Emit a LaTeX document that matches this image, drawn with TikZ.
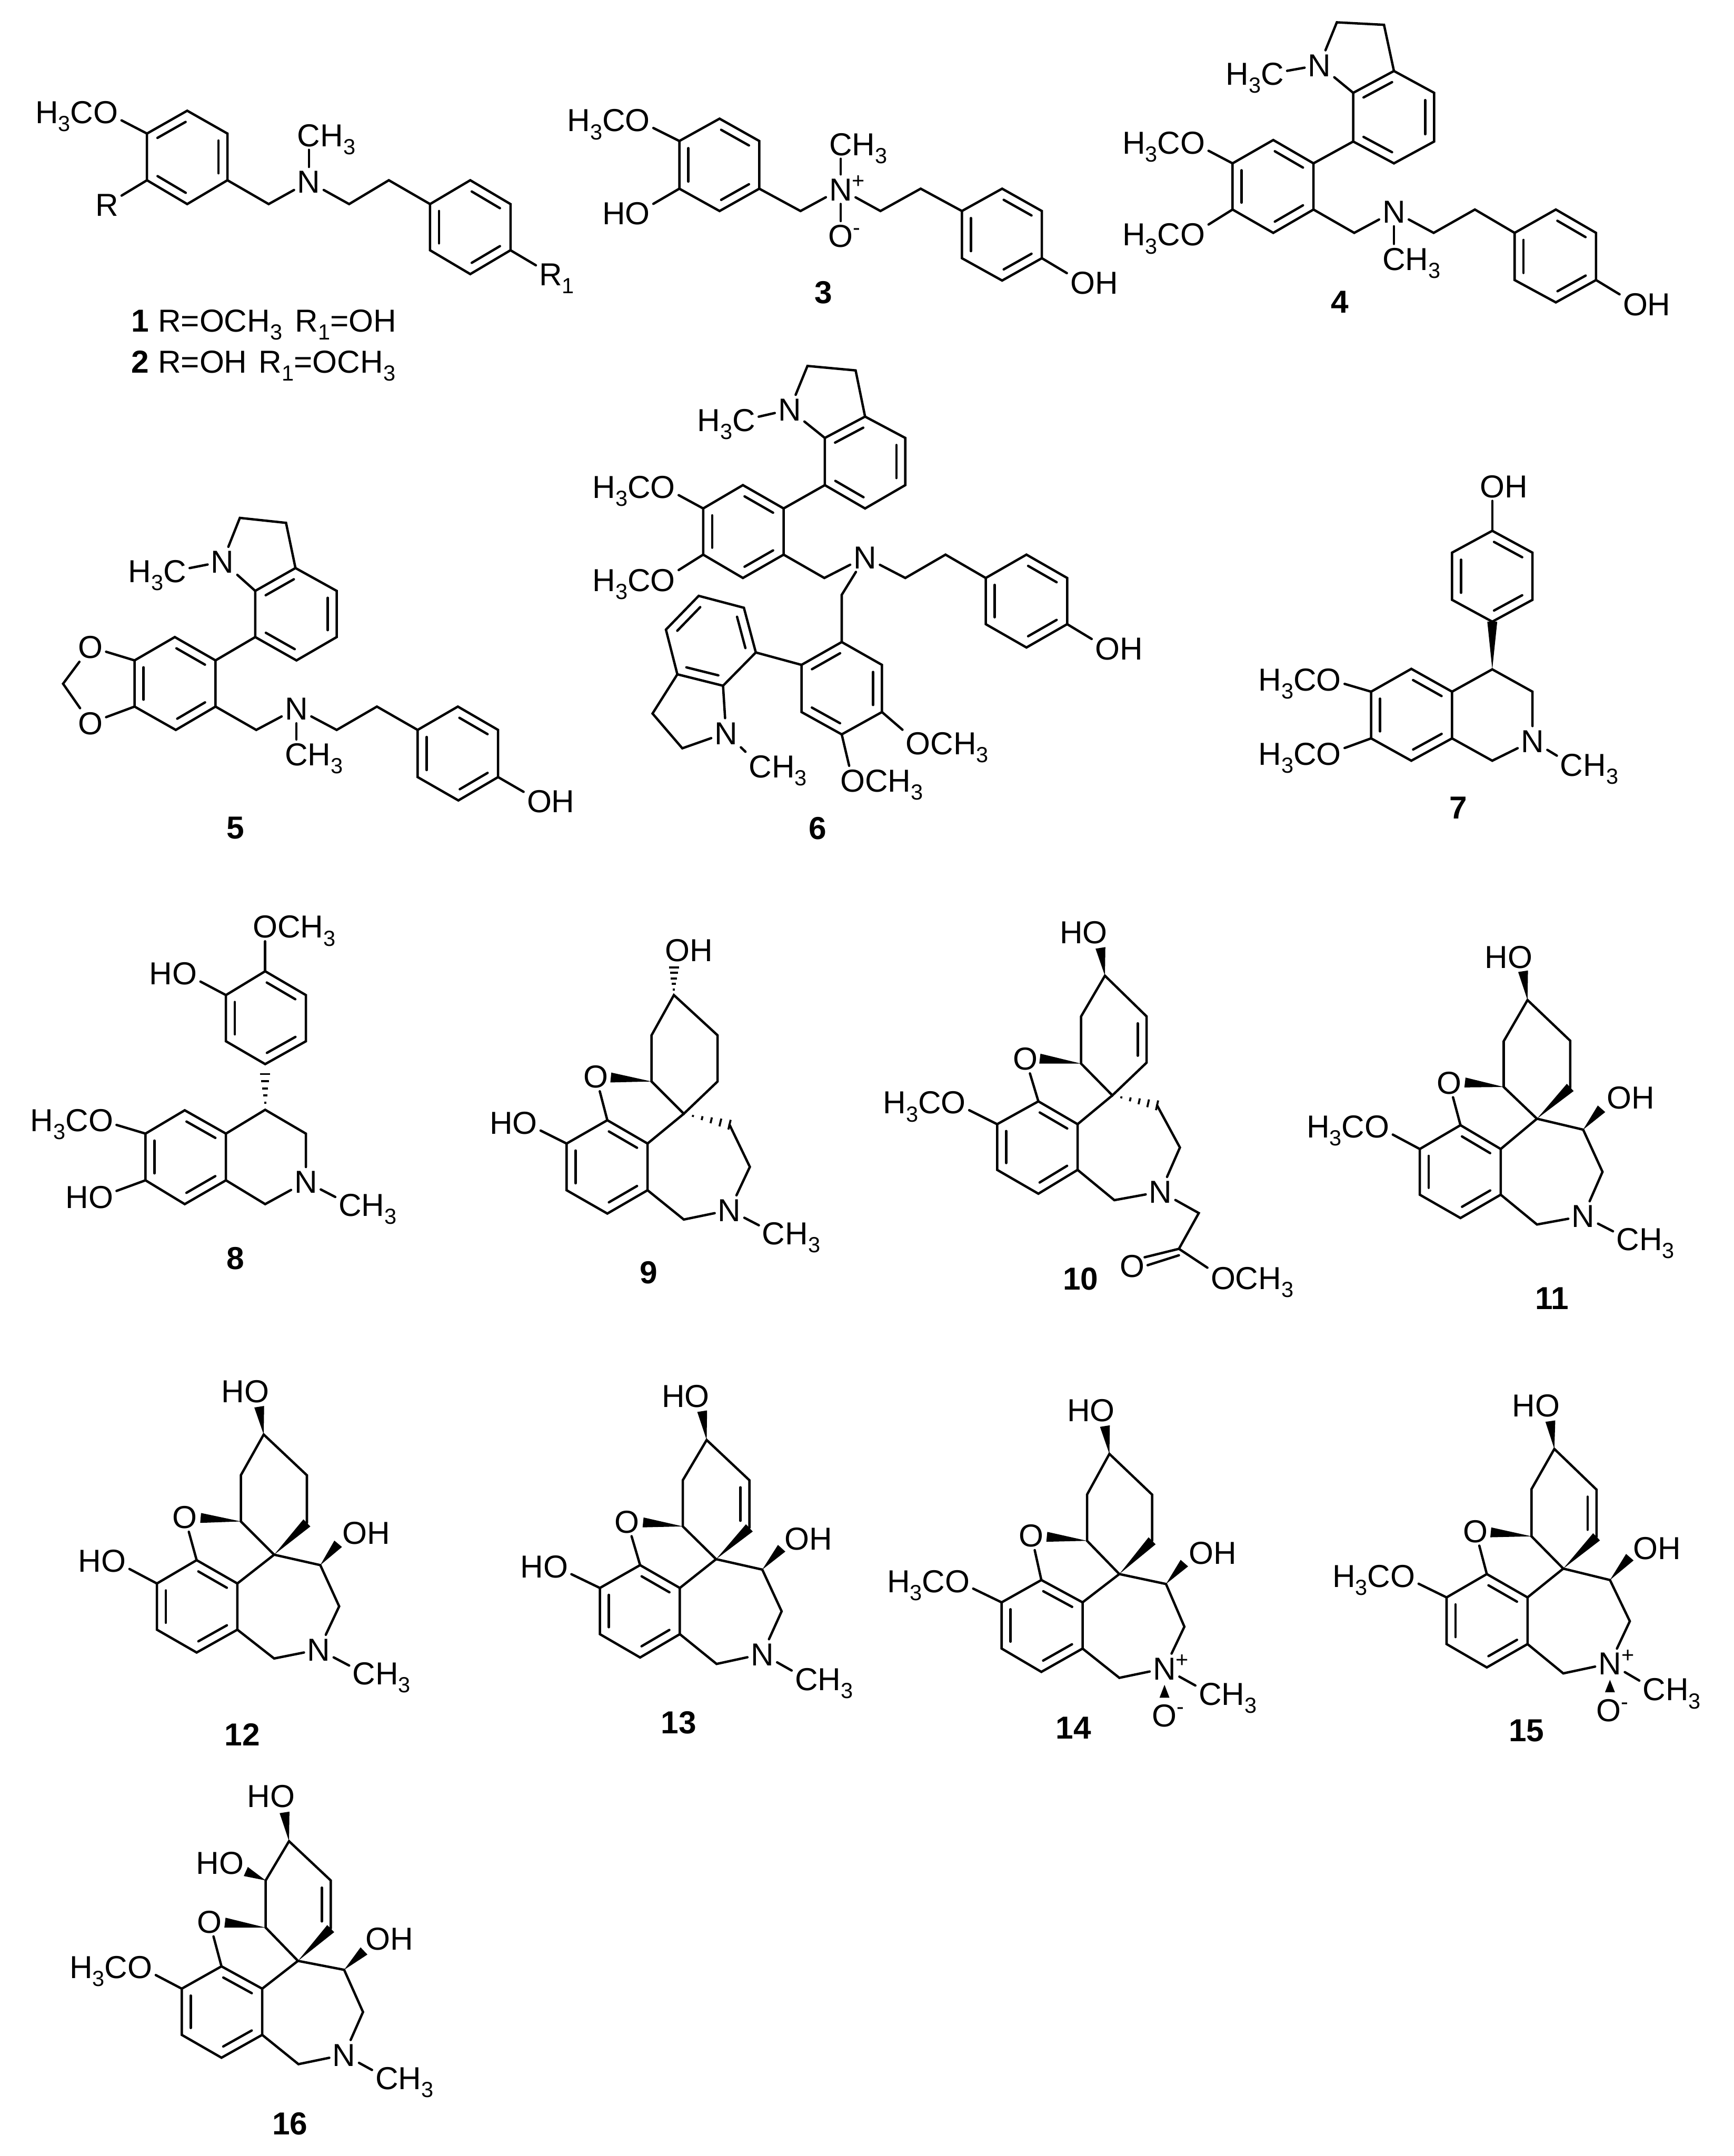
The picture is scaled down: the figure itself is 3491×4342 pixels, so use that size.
\documentclass[tikz,border=0pt]{standalone}
\usepackage{fontspec}
\setmainfont{Liberation Sans}
\usepackage{tikz}
\usetikzlibrary{calc}
\tikzstyle{tsBond} = [
    draw=black,
    line cap=round,
    line width=1.2pt]
\tikzstyle{tsAtom} = [
    text=black,
    font=\fontsize{16}{19}\selectfont,
    text height=11.5pt,
    text depth=0pt,
    inner sep=1.5pt]
\tikzstyle{tsText} = [
    text=black,
    font=\fontsize{16}{19}\selectfont,
    anchor=base west,
    inner sep=0pt]
\tikzstyle{tsNumber} = [
    tsText,
    anchor=center,
    font=\fontsize{16}{19}\selectfont\bfseries]
\newcommand{\subn}[1]{\raisebox{-4pt}{\fontsize{11}{11}\selectfont #1}}
\newcommand{\supn}[1]{\rlap{\raisebox{6.2pt}{\fontsize{11}{11}\selectfont #1}}}
\newcommand{\lHHCO}{\llap{H\subn{3}C}O}
\newcommand{\lOH}{O\rlap{H}}
\newcommand{\lHO}{\llap{H}O}
\newcommand{\lCHH}{C\rlap{H\subn{3}}}
\newcommand{\lHHC}{\llap{H\subn{3}}C}
\newcommand{\lOCH}{O\rlap{CH\subn{3}}}
\newcommand{\inbond}[2]{\draw[tsBond] ($(#1)!.15!(#2)!4.5pt!-90:(#2)$) -- ($(#2)!.15!(#1)!4.5pt!90:(#1)$);}
\newcommand{\wedgebond}[2]{\fill ($(#2)!2.5pt!90:(#1)$) -- (#1) -- ($(#2)!2.5pt!-90:(#1)$) -- cycle;}
\newcommand{\hashbond}[2]{\foreach \t in {.2,.4,.6,.8,1}{\draw[line width=1pt] ($(#1)!\t!(#2)!\t*2.5pt!90:(#1)$) -- ($(#1)!\t!(#2)!\t*2.5pt!-90:(#1)$);}}
\begin{document}
\begin{tikzpicture}[x=0.25pt, y=-0.25pt]
    \useasboundingbox (0,0) rectangle (3491,4342);

    % 1 and 2
    \begin{scope}[name prefix=m1-]
        \coordinate (a1) at (377,223); \coordinate (a2) at (458,269); \coordinate (a3) at (458,363);
        \coordinate (a4) at (377,411); \coordinate (a5) at (296,363); \coordinate (a6) at (296,269);
        \coordinate (b1) at (866,411); \coordinate (b2) at (947,363); \coordinate (b3) at (1028,411);
        \coordinate (b4) at (1028,504); \coordinate (b5) at (947,552); \coordinate (b6) at (866,504);
        \coordinate (c1) at (541,411); \coordinate (c2) at (703,411); \coordinate (c3) at (783,363);
        \node[tsAtom] (N) at (622,366) {N};
        \node[tsAtom] (me) at (622,272) {\lCHH};
        \node[tsAtom] (ome) at (213,226) {\lHHCO};
        \node[tsAtom] (R) at (215,412) {R};
        \node[tsAtom] (Ra) at (1109,552) {R\rlap{\subn{1}}};
        \draw[tsBond] (a1) -- (a2) -- (a3) -- (a4) -- (a5) -- (a6) -- cycle;
        \draw[tsBond] (b1) -- (b2) -- (b3) -- (b4) -- (b5) -- (b6) -- cycle;
        \inbond{a6}{a1} \inbond{a2}{a3} \inbond{a4}{a5}
        \inbond{b2}{b3} \inbond{b4}{b5} \inbond{b6}{b1}
        \draw[tsBond] (a3) -- (c1) -- (N);
        \draw[tsBond] (N) -- (c2) -- (c3) -- (b1);
        \draw[tsBond] (N) -- (me);
        \draw[tsBond] (a6) -- (ome);
        \draw[tsBond] (a5) -- (R);
        \draw[tsBond] (b4) -- (Ra);
        \node[tsText] (cap1) at (264,668) {\textbf{1} R=OCH\subn{3}\hspace{2pt} R\subn{1}=OH};
        \node[tsText] (cap2) at (264,751) {\textbf{2} R=OH\hspace{1.5pt} R\subn{1}=OCH\subn{3}};
    \end{scope}

    % 3
    \begin{scope}[name prefix=m3-]
        \coordinate (a1) at (1449,239); \coordinate (a2) at (1529,284); \coordinate (a3) at (1529,380);
        \coordinate (a4) at (1449,425); \coordinate (a5) at (1368,380); \coordinate (a6) at (1368,284);
        \coordinate (b1) at (1937,425); \coordinate (b2) at (2018,380); \coordinate (b3) at (2098,425);
        \coordinate (b4) at (2098,520); \coordinate (b5) at (2018,565); \coordinate (b6) at (1937,520);
        \coordinate (c1) at (1612,425); \coordinate (c2) at (1773,425); \coordinate (c3) at (1854,380);
        \node[tsAtom] (N) at (1693,381) {N\supn{+}};
        \node[tsAtom] (me) at (1693,290) {\lCHH};
        \node[tsAtom] (ox) at (1693,475) {O\supn{-}};
        \node[tsAtom] (ome) at (1284,242) {\lHHCO};
        \node[tsAtom] (ho) at (1284,429) {\lHO};
        \node[tsAtom] (oh) at (2180,569) {\lOH};
        \draw[tsBond] (a1) -- (a2) -- (a3) -- (a4) -- (a5) -- (a6) -- cycle;
        \draw[tsBond] (b1) -- (b2) -- (b3) -- (b4) -- (b5) -- (b6) -- cycle;
        \inbond{a1}{a2} \inbond{a3}{a4} \inbond{a5}{a6}
        \inbond{b2}{b3} \inbond{b4}{b5} \inbond{b6}{b1}
        \draw[tsBond] (a3) -- (c1) -- (N);
        \draw[tsBond] (N) -- (c2) -- (c3) -- (b1);
        \draw[tsBond] (N) -- (me);
        \draw[tsBond] (N) -- (ox);
        \draw[tsBond] (a6) -- (ome);
        \draw[tsBond] (a5) -- (ho);
        \draw[tsBond] (b4) -- (oh);
        \node[tsNumber] (num) at (1658,589) {3};
    \end{scope}

    % 4
    \begin{scope}[name prefix=m4-]
        \coordinate (i1) at (2725,187); \coordinate (i2) at (2807,143); \coordinate (i3) at (2888,187);
        \coordinate (i4) at (2888,285); \coordinate (i5) at (2807,329); \coordinate (i6) at (2725,285);
        \coordinate (a1) at (2564,282); \coordinate (a2) at (2645,329); \coordinate (a3) at (2645,422);
        \coordinate (a4) at (2564,469); \coordinate (a5) at (2482,422); \coordinate (a6) at (2482,329);
        \coordinate (b1) at (3050,469); \coordinate (b2) at (3133,422); \coordinate (b3) at (3214,469);
        \coordinate (b4) at (3214,564); \coordinate (b5) at (3133,609); \coordinate (b6) at (3050,564);
        \coordinate (c1) at (2727,469); \coordinate (c2) at (2887,469); \coordinate (c3) at (2970,422);
        \coordinate (p1) at (2692,45); \coordinate (p2) at (2787,50);
        \node[tsAtom] (Na) at (2657,131) {N};
        \node[tsAtom] (mea) at (2562,148) {\lHHC};
        \node[tsAtom] (N) at (2807,426) {N};
        \node[tsAtom] (me) at (2807,521) {\lCHH};
        \node[tsAtom] (omea) at (2402,287) {\lHHCO};
        \node[tsAtom] (omeb) at (2402,472) {\lHHCO};
        \node[tsAtom] (oh) at (3293,612) {\lOH};
        \draw[tsBond] (i1) -- (i2) -- (i3) -- (i4) -- (i5) -- (i6) -- cycle;
        \draw[tsBond] (a1) -- (a2) -- (a3) -- (a4) -- (a5) -- (a6) -- cycle;
        \draw[tsBond] (b1) -- (b2) -- (b3) -- (b4) -- (b5) -- (b6) -- cycle;
        \inbond{i1}{i2} \inbond{i3}{i4} \inbond{i5}{i6}
        \inbond{a1}{a2} \inbond{a3}{a4} \inbond{a5}{a6}
        \inbond{b2}{b3} \inbond{b4}{b5} \inbond{b6}{b1}
        \draw[tsBond] (i1) -- (Na) -- (p1) -- (p2) -- (i2);
        \draw[tsBond] (Na) -- (mea);
        \draw[tsBond] (a2) -- (i6);
        \draw[tsBond] (a3) -- (c1) -- (N);
        \draw[tsBond] (N) -- (c2) -- (c3) -- (b1);
        \draw[tsBond] (N) -- (me);
        \draw[tsBond] (a6) -- (omea);
        \draw[tsBond] (a5) -- (omeb);
        \draw[tsBond] (b4) -- (oh);
        \node[tsNumber] (num) at (2698,608) {4};
    \end{scope}

    % 5
    \begin{scope}[name prefix=m5-]
        \coordinate (i1) at (514,1190); \coordinate (i2) at (595,1144); \coordinate (i3) at (678,1190);
        \coordinate (i4) at (678,1283); \coordinate (i5) at (597,1330); \coordinate (i6) at (514,1283);
        \coordinate (a1) at (352,1283); \coordinate (a2) at (434,1330); \coordinate (a3) at (434,1423);
        \coordinate (a4) at (354,1470); \coordinate (a5) at (271,1423); \coordinate (a6) at (271,1330);
        \coordinate (b1) at (841,1470); \coordinate (b2) at (922,1423); \coordinate (b3) at (1003,1470);
        \coordinate (b4) at (1003,1565); \coordinate (b5) at (923,1612); \coordinate (b6) at (841,1565);
        \coordinate (c1) at (516,1470); \coordinate (c2) at (678,1470); \coordinate (c3) at (759,1423);
        \coordinate (p1) at (483,1043); \coordinate (p2) at (576,1053); \coordinate (d1) at (127,1377);
        \node[tsAtom] (Na) at (448,1131) {N};
        \node[tsAtom] (mea) at (352,1150) {\lHHC};
        \node[tsAtom] (N) at (597,1427) {N};
        \node[tsAtom] (me) at (597,1519) {\lCHH};
        \node[tsAtom] (oa) at (182,1303) {O};
        \node[tsAtom] (ob) at (182,1456) {O};
        \node[tsAtom] (oh) at (1086,1613) {\lOH};
        \draw[tsBond] (i1) -- (i2) -- (i3) -- (i4) -- (i5) -- (i6) -- cycle;
        \draw[tsBond] (a1) -- (a2) -- (a3) -- (a4) -- (a5) -- (a6) -- cycle;
        \draw[tsBond] (b1) -- (b2) -- (b3) -- (b4) -- (b5) -- (b6) -- cycle;
        \inbond{i1}{i2} \inbond{i3}{i4} \inbond{i5}{i6}
        \inbond{a1}{a2} \inbond{a3}{a4} \inbond{a5}{a6}
        \inbond{b2}{b3} \inbond{b4}{b5} \inbond{b6}{b1}
        \draw[tsBond] (i1) -- (Na) -- (p1) -- (p2) -- (i2);
        \draw[tsBond] (Na) -- (mea);
        \draw[tsBond] (a2) -- (i6);
        \draw[tsBond] (a3) -- (c1) -- (N);
        \draw[tsBond] (N) -- (c2) -- (c3) -- (b1);
        \draw[tsBond] (N) -- (me);
        \draw[tsBond] (a6) -- (oa) -- (d1) -- (ob) -- (a5);
        \draw[tsBond] (b4) -- (oh);
        \node[tsNumber] (num) at (474,1668) {5};
    \end{scope}

    % 6
    \begin{scope}[name prefix=m6-]
        \coordinate (i1) at (1661,882); \coordinate (i2) at (1742,839); \coordinate (i3) at (1823,882);
        \coordinate (i4) at (1823,977); \coordinate (i5) at (1742,1024); \coordinate (i6) at (1661,977);
        \coordinate (a1) at (1496,977); \coordinate (a2) at (1578,1024); \coordinate (a3) at (1578,1117);
        \coordinate (a4) at (1496,1164); \coordinate (a5) at (1416,1117); \coordinate (a6) at (1416,1024);
        \coordinate (b1) at (1985,1164); \coordinate (b2) at (2067,1117); \coordinate (b3) at (2149,1164);
        \coordinate (b4) at (2149,1257); \coordinate (b5) at (2067,1304); \coordinate (b6) at (1985,1257);
        \coordinate (c1) at (1695,1293); \coordinate (c2) at (1776,1339); \coordinate (c3) at (1776,1434);
        \coordinate (c4) at (1695,1479); \coordinate (c5) at (1614,1434); \coordinate (c6) at (1614,1339);
        \coordinate (j1) at (1498,1224); \coordinate (j2) at (1522,1314); \coordinate (j3) at (1456,1381);
        \coordinate (j4) at (1364,1358); \coordinate (j5) at (1341,1268); \coordinate (j6) at (1407,1200);
        \coordinate (d1) at (1660,1164); \coordinate (d2) at (1823,1164); \coordinate (d3) at (1904,1117);
        \coordinate (d4) at (1695,1198);
        \coordinate (p1) at (1626,737); \coordinate (p2) at (1723,746);
        \coordinate (q1) at (1314,1437); \coordinate (q2) at (1374,1507);
        \node[tsAtom] (Na) at (1590,825) {N};
        \node[tsAtom] (mea) at (1498,846) {\lHHC};
        \node[tsAtom] (N) at (1742,1122) {N};
        \node[tsAtom] (Nb) at (1462,1476) {N};
        \node[tsAtom] (meb) at (1531,1543) {\lCHH};
        \node[tsAtom] (omea) at (1335,980) {\lHHCO};
        \node[tsAtom] (omeb) at (1335,1168) {\lHHCO};
        \node[tsAtom] (omec) at (1849,1497) {\lOCH};
        \node[tsAtom] (omed) at (1717,1572) {\lOCH};
        \node[tsAtom] (oh) at (2230,1306) {\lOH};
        \draw[tsBond] (i1) -- (i2) -- (i3) -- (i4) -- (i5) -- (i6) -- cycle;
        \draw[tsBond] (a1) -- (a2) -- (a3) -- (a4) -- (a5) -- (a6) -- cycle;
        \draw[tsBond] (b1) -- (b2) -- (b3) -- (b4) -- (b5) -- (b6) -- cycle;
        \draw[tsBond] (c1) -- (c2) -- (c3) -- (c4) -- (c5) -- (c6) -- cycle;
        \draw[tsBond] (j1) -- (j2) -- (j3) -- (j4) -- (j5) -- (j6) -- cycle;
        \inbond{i1}{i2} \inbond{i3}{i4} \inbond{i5}{i6}
        \inbond{a1}{a2} \inbond{a3}{a4} \inbond{a5}{a6}
        \inbond{b2}{b3} \inbond{b4}{b5} \inbond{b6}{b1}
        \inbond{c6}{c1} \inbond{c2}{c3} \inbond{c4}{c5}
        \inbond{j1}{j2} \inbond{j3}{j4} \inbond{j5}{j6}
        \draw[tsBond] (i1) -- (Na) -- (p1) -- (p2) -- (i2);
        \draw[tsBond] (Na) -- (mea);
        \draw[tsBond] (a2) -- (i6);
        \draw[tsBond] (a3) -- (d1) -- (N);
        \draw[tsBond] (N) -- (d2) -- (d3) -- (b1);
        \draw[tsBond] (N) -- (d4) -- (c1);
        \draw[tsBond] (c6) -- (j2);
        \draw[tsBond] (j3) -- (Nb) -- (q2) -- (q1) -- (j4);
        \draw[tsBond] (Nb) -- (meb);
        \draw[tsBond] (a6) -- (omea);
        \draw[tsBond] (a5) -- (omeb);
        \draw[tsBond] (c3) -- (omec);
        \draw[tsBond] (c4) -- (omed);
        \draw[tsBond] (b4) -- (oh);
        \node[tsNumber] (num) at (1647,1668) {6};
    \end{scope}

    % 7
    \begin{scope}[name prefix=m7-]
        \coordinate (a1) at (2842,1347); \coordinate (a2) at (2924,1393); \coordinate (a3) at (2924,1487);
        \coordinate (a4) at (2842,1532); \coordinate (a5) at (2761,1487); \coordinate (a6) at (2761,1393);
        \coordinate (b1) at (3005,1069); \coordinate (b2) at (3086,1113); \coordinate (b3) at (3086,1208);
        \coordinate (b4) at (3005,1252); \coordinate (b5) at (2924,1208); \coordinate (b6) at (2924,1113);
        \coordinate (c1) at (3005,1348); \coordinate (c2) at (3086,1393); \coordinate (c3) at (3005,1532);
        \node[tsAtom] (N) at (3086,1492) {N};
        \node[tsAtom] (me) at (3165,1540) {\lCHH};
        \node[tsAtom] (omea) at (2676,1368) {\lHHCO};
        \node[tsAtom] (omeb) at (2676,1518) {\lHHCO};
        \node[tsAtom] (oh) at (3005,979) {\lOH};
        \draw[tsBond] (a1) -- (a2) -- (a3) -- (a4) -- (a5) -- (a6) -- cycle;
        \draw[tsBond] (b1) -- (b2) -- (b3) -- (b4) -- (b5) -- (b6) -- cycle;
        \inbond{a1}{a2} \inbond{a3}{a4} \inbond{a5}{a6}
        \inbond{b1}{b2} \inbond{b3}{b4} \inbond{b5}{b6}
        \draw[tsBond] (a2) -- (c1) -- (c2) -- (N) -- (c3) -- (a3);
        \wedgebond{c1}{b4}
        \draw[tsBond] (N) -- (me);
        \draw[tsBond] (a6) -- (omea);
        \draw[tsBond] (a5) -- (omeb);
        \draw[tsBond] (b1) -- (oh);
        \node[tsNumber] (num) at (2937,1627) {7};
    \end{scope}

    % 8
    \begin{scope}[name prefix=m8-]
        \coordinate (a1) at (372,2236); \coordinate (a2) at (455,2283); \coordinate (a3) at (455,2377);
        \coordinate (a4) at (372,2425); \coordinate (a5) at (293,2377); \coordinate (a6) at (293,2283);
        \coordinate (b1) at (534,1956); \coordinate (b2) at (616,2004); \coordinate (b3) at (616,2097);
        \coordinate (b4) at (534,2143); \coordinate (b5) at (455,2097); \coordinate (b6) at (455,2004);
        \coordinate (c1) at (534,2235); \coordinate (c2) at (616,2283); \coordinate (c3) at (534,2425);
        \coordinate (h1) at (534,2163);
        \node[tsAtom] (N) at (616,2380) {N};
        \node[tsAtom] (me) at (705,2426) {\lCHH};
        \node[tsAtom] (ome) at (203,2256) {\lHHCO};
        \node[tsAtom] (ho) at (203,2410) {\lHO};
        \node[tsAtom] (hob) at (372,1960) {\lHO};
        \node[tsAtom] (omeb) at (534,1866) {\lOCH};
        \draw[tsBond] (a1) -- (a2) -- (a3) -- (a4) -- (a5) -- (a6) -- cycle;
        \draw[tsBond] (b1) -- (b2) -- (b3) -- (b4) -- (b5) -- (b6) -- cycle;
        \inbond{a1}{a2} \inbond{a3}{a4} \inbond{a5}{a6}
        \inbond{b1}{b2} \inbond{b3}{b4} \inbond{b5}{b6}
        \draw[tsBond] (a2) -- (c1) -- (c2) -- (N) -- (c3) -- (a3);
        \hashbond{c1}{h1}
        \draw[tsBond] (N) -- (me);
        \draw[tsBond] (a6) -- (ome);
        \draw[tsBond] (a5) -- (ho);
        \draw[tsBond] (b6) -- (hob);
        \draw[tsBond] (b1) -- (omeb);
        \node[tsNumber] (num) at (474,2534) {8};
    \end{scope}

    % 9
    \begin{scope}[name prefix=m9-]
        \coordinate (r1) at (1357,2004); \coordinate (r2) at (1445,2085); \coordinate (r3) at (1445,2178);
        \coordinate (s) at (1377,2243); \coordinate (r5) at (1312,2178); \coordinate (r6) at (1312,2085);
        \coordinate (a1) at (1223,2256); \coordinate (a2) at (1304,2303); \coordinate (a3) at (1304,2397);
        \coordinate (a4) at (1223,2444); \coordinate (a5) at (1141,2397); \coordinate (a6) at (1141,2303);
        \coordinate (d1) at (1469,2265); \coordinate (d2) at (1510,2350); \coordinate (d3) at (1377,2456);
        \coordinate (h1) at (1357,1948); \coordinate (w1) at (1230,2170);
        \node[tsAtom] (N) at (1469,2437) {N};
        \node[tsAtom] (me) at (1558,2483) {\lCHH};
        \node[tsAtom] (ox) at (1200,2168) {O};
        \node[tsAtom] (ho) at (1057,2261) {\lHO};
        \node[tsAtom] (oh) at (1364,1913) {\lOH};
        \draw[tsBond] (r1) -- (r2) -- (r3) -- (s) -- (r5) -- (r6) -- cycle;
        \draw[tsBond] (a1) -- (a2) -- (a3) -- (a4) -- (a5) -- (a6) -- cycle;
        \inbond{a1}{a2} \inbond{a3}{a4} \inbond{a5}{a6}
        \hashbond{r1}{h1}
        \wedgebond{r5}{w1}
        \hashbond{s}{d1}
        \draw[tsBond] (s) -- (a2);
        \draw[tsBond] (a1) -- (ox);
        \draw[tsBond] (d1) -- (d2) -- (N) -- (d3) -- (a3);
        \draw[tsBond] (N) -- (me);
        \draw[tsBond] (a6) -- (ho);
        \node[tsNumber] (num) at (1306,2563) {9};
    \end{scope}

    % 10
    \begin{scope}[name prefix=m10-]
        \coordinate (r1) at (2225,1965); \coordinate (r2) at (2309,2047); \coordinate (r3) at (2309,2140);
        \coordinate (s) at (2240,2206); \coordinate (r5) at (2177,2142); \coordinate (r6) at (2177,2047);
        \coordinate (a1) at (2091,2218); \coordinate (a2) at (2170,2264); \coordinate (a3) at (2170,2356);
        \coordinate (a4) at (2091,2404); \coordinate (a5) at (2008,2356); \coordinate (a6) at (2008,2264);
        \coordinate (d1) at (2330,2226); \coordinate (d2) at (2376,2311); \coordinate (d3) at (2244,2417);
        \coordinate (d4) at (2414,2443); \coordinate (d5) at (2374,2515);
        \coordinate (e1) at (2374,2528); \coordinate (e2) at (2305,2532); \coordinate (e3) at (2311,2548);
        \coordinate (w1) at (2216,1909); \coordinate (w2) at (2094,2132);
        \node[tsAtom] (N) at (2337,2400) {N};
        \node[tsAtom] (ox) at (2065,2132) {O};
        \node[tsAtom] (ome) at (1920,2220) {\lHHCO};
        \node[tsAtom] (ho) at (2205,1877) {\lHO};
        \node[tsAtom] (oc) at (2280,2549) {O};
        \node[tsAtom] (omeb) at (2463,2574) {\lOCH};
        \draw[tsBond] (r1) -- (r2) -- (r3) -- (s) -- (r5) -- (r6) -- cycle;
        \draw[tsBond] (a1) -- (a2) -- (a3) -- (a4) -- (a5) -- (a6) -- cycle;
        \inbond{r2}{r3}
        \inbond{a1}{a2} \inbond{a3}{a4} \inbond{a5}{a6}
        \wedgebond{r1}{w1}
        \wedgebond{r5}{w2}
        \hashbond{s}{d1}
        \draw[tsBond] (s) -- (a2);
        \draw[tsBond] (a1) -- (ox);
        \draw[tsBond] (d1) -- (d2) -- (N) -- (d3) -- (a3);
        \draw[tsBond] (N) -- (d4) -- (d5);
        \draw[tsBond] (d5) -- (e2);
        \draw[tsBond] (e1) -- (e3);
        \draw[tsBond] (d5) -- (omeb);
        \draw[tsBond] (a6) -- (ome);
        \node[tsNumber] (num) at (2176,2576) {10};
    \end{scope}

    % 11
    \begin{scope}[name prefix=m11-]
        \coordinate (r1) at (3076,2014); \coordinate (r2) at (3162,2096); \coordinate (r3) at (3162,2190);
        \coordinate (s) at (3095,2253); \coordinate (r5) at (3028,2189); \coordinate (r6) at (3028,2097);
        \coordinate (a1) at (2941,2266); \coordinate (a2) at (3022,2314); \coordinate (a3) at (3022,2406);
        \coordinate (a4) at (2941,2453); \coordinate (a5) at (2859,2406); \coordinate (a6) at (2859,2314);
        \coordinate (d1) at (3188,2275); \coordinate (d2) at (3227,2360); \coordinate (d3) at (3095,2466);
        \coordinate (w1) at (3067,1956); \coordinate (w2) at (2950,2180); \coordinate (w3) at (3225,2233);
        \node[tsAtom] (N) at (3188,2449) {N};
        \node[tsAtom] (me) at (3278,2495) {\lCHH};
        \node[tsAtom] (ox) at (2918,2180) {O};
        \node[tsAtom] (ome) at (2773,2268) {\lHHCO};
        \node[tsAtom] (ho) at (3061,1927) {\lHO};
        \node[tsAtom] (oh) at (3261,2210) {\lOH};
        \draw[tsBond] (r3) -- (r2) -- (r1) -- (r6) -- (r5) -- (s);
        \draw[tsBond] (a1) -- (a2) -- (a3) -- (a4) -- (a5) -- (a6) -- cycle;
        \inbond{a1}{a2} \inbond{a3}{a4} \inbond{a5}{a6}
        \wedgebond{r1}{w1}
        \wedgebond{r5}{w2}
        \wedgebond{s}{r3}
        \wedgebond{d1}{w3}
        \draw[tsBond] (s) -- (a2);
        \draw[tsBond] (a1) -- (ox);
        \draw[tsBond] (s) -- (d1) -- (d2) -- (N) -- (d3) -- (a3);
        \draw[tsBond] (N) -- (me);
        \draw[tsBond] (a6) -- (ome);
        \node[tsNumber] (num) at (3125,2615) {11};
    \end{scope}

    % 12
    \begin{scope}[name prefix=m12-]
        \coordinate (r1) at (531,2889); \coordinate (r2) at (618,2971); \coordinate (r3) at (618,3067);
        \coordinate (s) at (552,3131); \coordinate (r5) at (485,3064); \coordinate (r6) at (485,2971);
        \coordinate (a1) at (396,3142); \coordinate (a2) at (478,3189); \coordinate (a3) at (478,3282);
        \coordinate (a4) at (396,3328); \coordinate (a5) at (316,3282); \coordinate (a6) at (316,3189);
        \coordinate (d1) at (645,3152); \coordinate (d2) at (683,3235); \coordinate (d3) at (552,3340);
        \coordinate (w1) at (522,2833); \coordinate (w2) at (404,3057); \coordinate (w3) at (681,3109);
        \node[tsAtom] (N) at (642,3322) {N};
        \node[tsAtom] (me) at (733,3370) {\lCHH};
        \node[tsAtom] (ox) at (372,3055) {O};
        \node[tsAtom] (hoa) at (229,3143) {\lHO};
        \node[tsAtom] (ho) at (517,2802) {\lHO};
        \node[tsAtom] (oh) at (714,3087) {\lOH};
        \draw[tsBond] (r3) -- (r2) -- (r1) -- (r6) -- (r5) -- (s);
        \draw[tsBond] (a1) -- (a2) -- (a3) -- (a4) -- (a5) -- (a6) -- cycle;
        \inbond{a1}{a2} \inbond{a3}{a4} \inbond{a5}{a6}
        \wedgebond{r1}{w1}
        \wedgebond{r5}{w2}
        \wedgebond{s}{r3}
        \wedgebond{d1}{w3}
        \draw[tsBond] (s) -- (a2);
        \draw[tsBond] (a1) -- (ox);
        \draw[tsBond] (s) -- (d1) -- (d2) -- (N) -- (d3) -- (a3);
        \draw[tsBond] (N) -- (me);
        \draw[tsBond] (a6) -- (hoa);
        \node[tsNumber] (num) at (488,3493) {12};
    \end{scope}

    % 13
    \begin{scope}[name prefix=m13-]
        \coordinate (r1) at (1423,2900); \coordinate (r2) at (1509,2981); \coordinate (r3) at (1509,3077);
        \coordinate (s) at (1442,3140); \coordinate (r5) at (1375,3074); \coordinate (r6) at (1375,2981);
        \coordinate (a1) at (1289,3152); \coordinate (a2) at (1369,3198); \coordinate (a3) at (1369,3291);
        \coordinate (a4) at (1289,3338); \coordinate (a5) at (1208,3291); \coordinate (a6) at (1208,3198);
        \coordinate (d1) at (1535,3161); \coordinate (d2) at (1574,3245); \coordinate (d3) at (1443,3351);
        \coordinate (w1) at (1414,2842); \coordinate (w2) at (1295,3066); \coordinate (w3) at (1574,3118);
        \node[tsAtom] (N) at (1535,3331) {N};
        \node[tsAtom] (me) at (1624,3381) {\lCHH};
        \node[tsAtom] (ox) at (1263,3064) {O};
        \node[tsAtom] (hoa) at (1119,3155) {\lHO};
        \node[tsAtom] (ho) at (1404,2811) {\lHO};
        \node[tsAtom] (oh) at (1605,3098) {\lOH};
        \draw[tsBond] (r3) -- (r2) -- (r1) -- (r6) -- (r5) -- (s);
        \draw[tsBond] (a1) -- (a2) -- (a3) -- (a4) -- (a5) -- (a6) -- cycle;
        \inbond{r2}{r3}
        \inbond{a1}{a2} \inbond{a3}{a4} \inbond{a5}{a6}
        \wedgebond{r1}{w1}
        \wedgebond{r5}{w2}
        \wedgebond{s}{r3}
        \wedgebond{d1}{w3}
        \draw[tsBond] (s) -- (a2);
        \draw[tsBond] (a1) -- (ox);
        \draw[tsBond] (s) -- (d1) -- (d2) -- (N) -- (d3) -- (a3);
        \draw[tsBond] (N) -- (me);
        \draw[tsBond] (a6) -- (hoa);
        \node[tsNumber] (num) at (1367,3469) {13};
    \end{scope}

    % 14
    \begin{scope}[name prefix=m14-]
        \coordinate (r1) at (2234,2928); \coordinate (r2) at (2320,3010); \coordinate (r3) at (2320,3103);
        \coordinate (s) at (2254,3170); \coordinate (r5) at (2189,3103); \coordinate (r6) at (2189,3010);
        \coordinate (a1) at (2097,3182); \coordinate (a2) at (2180,3227); \coordinate (a3) at (2180,3320);
        \coordinate (a4) at (2097,3367); \coordinate (a5) at (2017,3320); \coordinate (a6) at (2017,3227);
        \coordinate (d1) at (2348,3190); \coordinate (d2) at (2385,3276); \coordinate (d3) at (2254,3379);
        \coordinate (w1) at (2225,2872); \coordinate (w2) at (2108,3095); \coordinate (w3) at (2385,3148);
        \coordinate (w4) at (2345,3393); \coordinate (w5) at (2345,3419);
        \node[tsAtom] (N) at (2345,3360) {N\supn{+}};
        \node[tsAtom] (me) at (2437,3411) {\lCHH};
        \node[tsAtom] (oa) at (2345,3454) {O\supn{-}};
        \node[tsAtom] (ox) at (2077,3092) {O};
        \node[tsAtom] (ome) at (1928,3184) {\lHHCO};
        \node[tsAtom] (ho) at (2220,2840) {\lHO};
        \node[tsAtom] (oh) at (2419,3127) {\lOH};
        \draw[tsBond] (r3) -- (r2) -- (r1) -- (r6) -- (r5) -- (s);
        \draw[tsBond] (a1) -- (a2) -- (a3) -- (a4) -- (a5) -- (a6) -- cycle;
        \inbond{a1}{a2} \inbond{a3}{a4} \inbond{a5}{a6}
        \wedgebond{r1}{w1}
        \wedgebond{r5}{w2}
        \wedgebond{s}{r3}
        \wedgebond{d1}{w3}
        \wedgebond{w4}{w5}
        \draw[tsBond] (s) -- (a2);
        \draw[tsBond] (a1) -- (ox);
        \draw[tsBond] (s) -- (d1) -- (d2) -- (N) -- (d3) -- (a3);
        \draw[tsBond] (N) -- (me);
        \draw[tsBond] (a6) -- (ome);
        \node[tsNumber] (num) at (2162,3480) {14};
    \end{scope}

    % 15
    \begin{scope}[name prefix=m15-]
        \coordinate (r1) at (3130,2918); \coordinate (r2) at (3215,3000); \coordinate (r3) at (3215,3095);
        \coordinate (s) at (3148,3159); \coordinate (r5) at (3084,3094); \coordinate (r6) at (3084,2999);
        \coordinate (a1) at (2994,3170); \coordinate (a2) at (3076,3217); \coordinate (a3) at (3076,3311);
        \coordinate (a4) at (2994,3358); \coordinate (a5) at (2913,3311); \coordinate (a6) at (2913,3217);
        \coordinate (d1) at (3242,3182); \coordinate (d2) at (3282,3265); \coordinate (d3) at (3148,3370);
        \coordinate (w1) at (3122,2862); \coordinate (w2) at (3002,3086); \coordinate (w3) at (3282,3136);
        \coordinate (w4) at (3242,3383); \coordinate (w5) at (3242,3408);
        \node[tsAtom] (N) at (3242,3350) {N\supn{+}};
        \node[tsAtom] (me) at (3331,3402) {\lCHH};
        \node[tsAtom] (oa) at (3239,3444) {O\supn{-}};
        \node[tsAtom] (ox) at (2971,3083) {O};
        \node[tsAtom] (ome) at (2825,3174) {\lHHCO};
        \node[tsAtom] (ho) at (3116,2830) {\lHO};
        \node[tsAtom] (oh) at (3314,3117) {\lOH};
        \draw[tsBond] (r3) -- (r2) -- (r1) -- (r6) -- (r5) -- (s);
        \draw[tsBond] (a1) -- (a2) -- (a3) -- (a4) -- (a5) -- (a6) -- cycle;
        \inbond{r2}{r3}
        \inbond{a1}{a2} \inbond{a3}{a4} \inbond{a5}{a6}
        \wedgebond{r1}{w1}
        \wedgebond{r5}{w2}
        \wedgebond{s}{r3}
        \wedgebond{d1}{w3}
        \wedgebond{w4}{w5}
        \draw[tsBond] (s) -- (a2);
        \draw[tsBond] (a1) -- (ox);
        \draw[tsBond] (s) -- (d1) -- (d2) -- (N) -- (d3) -- (a3);
        \draw[tsBond] (N) -- (me);
        \draw[tsBond] (a6) -- (ome);
        \node[tsNumber] (num) at (3074,3485) {15};
    \end{scope}

    % 16
    \begin{scope}[name prefix=m16-]
        \coordinate (r1) at (582,3708); \coordinate (r2) at (666,3787); \coordinate (r3) at (666,3884);
        \coordinate (s) at (600,3949); \coordinate (r5) at (535,3882); \coordinate (r6) at (535,3787);
        \coordinate (a1) at (446,3960); \coordinate (a2) at (528,4005); \coordinate (a3) at (528,4098);
        \coordinate (a4) at (446,4144); \coordinate (a5) at (366,4098); \coordinate (a6) at (366,4005);
        \coordinate (d1) at (693,3967); \coordinate (d2) at (731,4052); \coordinate (d3) at (601,4157);
        \coordinate (w1) at (573,3650); \coordinate (w2) at (453,3872); \coordinate (w3) at (733,3929);
        \coordinate (w4) at (495,3769);
        \node[tsAtom] (N) at (693,4138) {N};
        \node[tsAtom] (me) at (779,4185) {\lCHH};
        \node[tsAtom] (ox) at (422,3870) {O};
        \node[tsAtom] (ome) at (282,3961) {\lHHCO};
        \node[tsAtom] (ho) at (569,3617) {\lHO};
        \node[tsAtom] (hob) at (466,3751) {\lHO};
        \node[tsAtom] (oh) at (761,3904) {\lOH};
        \draw[tsBond] (r3) -- (r2) -- (r1) -- (r6) -- (r5) -- (s);
        \draw[tsBond] (a1) -- (a2) -- (a3) -- (a4) -- (a5) -- (a6) -- cycle;
        \inbond{r2}{r3}
        \inbond{a1}{a2} \inbond{a3}{a4} \inbond{a5}{a6}
        \wedgebond{r1}{w1}
        \wedgebond{r5}{w2}
        \wedgebond{r6}{w4}
        \wedgebond{s}{r3}
        \wedgebond{d1}{w3}
        \draw[tsBond] (s) -- (a2);
        \draw[tsBond] (a1) -- (ox);
        \draw[tsBond] (s) -- (d1) -- (d2) -- (N) -- (d3) -- (a3);
        \draw[tsBond] (N) -- (me);
        \draw[tsBond] (a6) -- (ome);
        \node[tsNumber] (num) at (584,4277) {16};
    \end{scope}
\end{tikzpicture}
\end{document}
